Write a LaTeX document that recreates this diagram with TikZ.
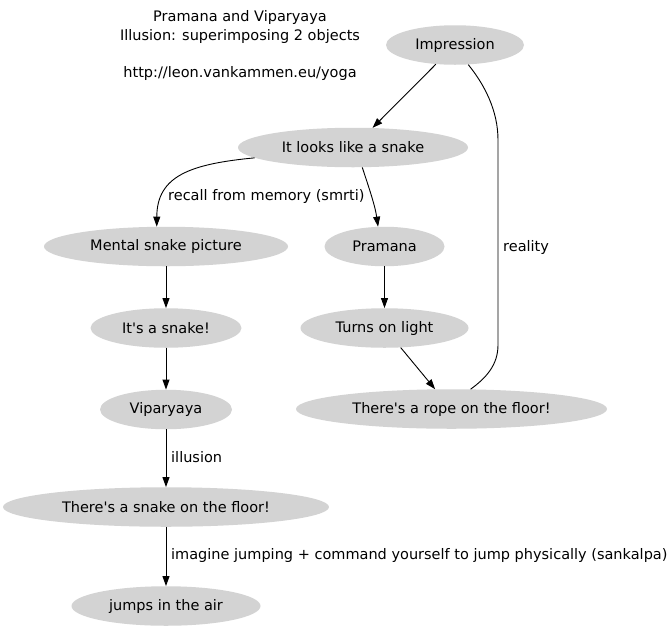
\documentclass[tikz,border=0pt]{standalone}
\usepackage{fontspec}
\setmainfont{DejaVu Sans}
\usetikzlibrary{shapes.geometric,arrows.meta}
\definecolor{grey}{HTML}{D3D3D3}

\begin{document}
\begin{tikzpicture}[x=1pt,y=-1pt,font=\fontsize{14.5}{17}\selectfont,
 thought/.style={ellipse,fill=grey,inner sep=0pt,minimum height=39.5pt},
 link/.style={black,line width=.9pt,-{Triangle[length=10pt,width=7pt]}},
 tag/.style={anchor=west,inner sep=0pt}]
 \fill[white] (0,0) rectangle (672,630); \useasboundingbox (0,0) rectangle (672,630);
 \node (title) at (240,17) {Pramana and Viparyaya};
 \node (sub) at (240,36) {Illusion: superimposing 2 objects};
 \node (url) at (240,73) {http://leon.vankammen.eu/yoga};
 \node[thought,minimum width=138pt] (imp) at (455,45) {Impression};
 \node[thought,minimum width=230pt] (looks) at (353,147.5) {It looks like a snake};
 \node[thought,minimum width=244pt] (mental) at (166,246.5) {Mental snake picture};
 \node[thought,minimum width=120pt] (pramana) at (384.5,246.5) {Pramana};
 \node[thought,minimum width=151pt] (snake) at (166,328) {It\textquotesingle s a snake!};
 \node[thought,minimum width=168pt] (light) at (384.5,328) {Turns on light};
 \node[thought,minimum width=132pt] (vip) at (166,409.5) {Viparyaya};
 \node[thought,minimum width=311pt] (rope) at (451.5,409) {There\textquotesingle s a rope on the floor!};
 \node[thought,minimum width=326pt] (floor) at (166,507) {There\textquotesingle s a snake on the floor!};
 \node[thought,minimum width=189pt] (jumps) at (166,606) {jumps in the air};
 \draw[link] (imp) -- (looks);
 \draw[link] (looks.186) .. controls (190,164) and (157,176) .. (mental.115);
 \draw[link] (looks.-65) .. controls (368,185) and (375,205) .. (pramana.108);
 \draw[link] (mental) -- (snake); \draw[link] (snake) -- (vip);
 \draw[link] (vip) -- (floor); \draw[link] (floor) -- (jumps);
 \draw[link] (pramana) -- (light); \draw[link] (light) -- (rope);
 \draw[link,-] (imp.-56) .. controls (484,84) and (498,110) .. (498,140) -- (498,345)
  .. controls (498,365) and (486,378) .. (rope.46);
 \node[tag] (recall) at (168,196) {recall from memory (smrti)};
 \node[tag] (reality) at (503,247) {reality};
 \node[tag] (illusion) at (171,457) {illusion};
 \node[tag] (imagine) at (171,555) {imagine jumping + command yourself to jump physically (sankalpa)};
\end{tikzpicture}
\end{document}
